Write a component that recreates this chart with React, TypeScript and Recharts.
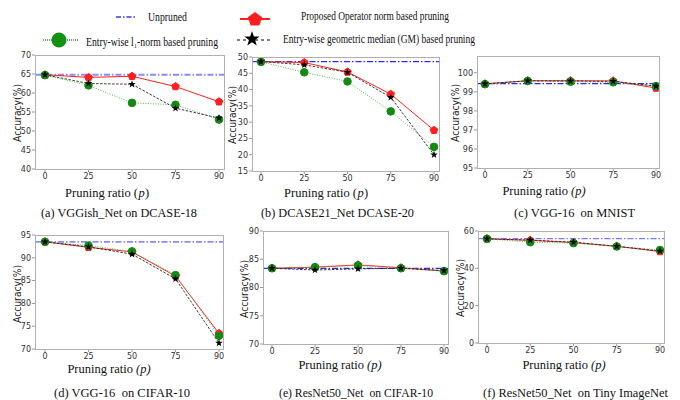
import React from "react";
import { LineChart, Line, XAxis, YAxis, ReferenceLine } from "recharts";

const ratios = ["0", "25", "50", "75", "90"];

// (a) VGGish_Net on DCASE-18
const aUnpruned = 64.8;
const aProposed = [64.8, 64.1, 64.4, 61.7, 57.7];
const aL1 = [64.7, 62.0, 57.4, 56.9, 53.0];
const aGM = [64.8, 62.5, 62.3, 56.0, 53.4];
const aTicks = [40, 45, 50, 55, 60, 65, 70];

// (b) DCASE21_Net DCASE-20
const bUnpruned = 48.6;
const bProposed = [48.6, 48.3, 45.4, 38.6, 27.5];
const bL1 = [48.5, 45.3, 42.5, 33.3, 22.4];
const bGM = [48.6, 47.6, 45.3, 37.6, 20.0];
const bTicks = [15, 20, 25, 30, 35, 40, 45, 50];

// (c) VGG-16 on MNIST
const cUnpruned = 99.43;
const cProposed = [99.42, 99.58, 99.58, 99.57, 99.2];
const cL1 = [99.4, 99.57, 99.53, 99.5, 99.3];
const cGM = [99.42, 99.58, 99.57, 99.55, 99.3];
const cTicks = [95, 96, 97, 98, 99, 100];

// (d) VGG-16 on CIFAR-10
const dUnpruned = 93.5;
const dProposed = [93.5, 92.3, 91.3, 86.0, 73.4];
const dL1 = [93.5, 92.7, 91.4, 86.2, 72.9];
const dGM = [93.5, 92.4, 90.8, 85.4, 71.3];
const dTicks = [70, 75, 80, 85, 90, 95];

// (e) ResNet50_Net on CIFAR-10
const eUnpruned = 83.4;
const eProposed = [83.4, 83.6, 84.0, 83.5, 82.9];
const eL1 = [83.4, 83.6, 83.9, 83.4, 82.9];
const eGM = [83.4, 83.1, 83.3, 83.4, 83.0];
const eTicks = [70, 75, 80, 85, 90];

// (f) ResNet50_Net on Tiny ImageNet
const fUnpruned = 55.9;
const fProposed = [55.8, 55.0, 53.8, 51.8, 49.0];
const fL1 = [55.8, 54.0, 53.5, 51.7, 49.8];
const fGM = [55.8, 55.1, 54.0, 51.8, 49.3];
const fTicks = [0, 20, 40, 60];

const SANS = "DejaVu Sans, sans-serif";
const SERIF = "Liberation Serif, Times New Roman, serif";

const pentPoints = (cx: number, cy: number, r: number) =>
  [0, 1, 2, 3, 4]
    .map((k) => {
      const a = ((-90 + k * 72) * Math.PI) / 180;
      return `${cx + r * Math.cos(a)},${cy + r * Math.sin(a)}`;
    })
    .join(" ");

const starPoints = (cx: number, cy: number, r: number) =>
  Array.from({ length: 10 })
    .map((_, k) => {
      const a = ((-90 + k * 36) * Math.PI) / 180;
      const rr = k % 2 === 0 ? r : r * 0.4;
      return `${cx + rr * Math.cos(a)},${cy + rr * Math.sin(a)}`;
    })
    .join(" ");

const PentDot = (p: any) =>
  p.cx == null ? null : (
    <polygon key={`p${p.index}`} points={pentPoints(p.cx, p.cy, 4)} fill="#ff1f1f" stroke="#ff1f1f" />
  );
const CircleDot = (p: any) =>
  p.cx == null ? null : (
    <circle key={`c${p.index}`} cx={p.cx} cy={p.cy} r={3.8} fill="#138a13" stroke="#138a13" />
  );
const StarDot = (p: any) =>
  p.cx == null ? null : (
    <polygon key={`s${p.index}`} points={starPoints(p.cx, p.cy, 4)} fill="#000" />
  );

type Box = { x0: number; y0: number; x1: number; y1: number; padL: number; padR: number };

const YW = 28;
const XH = 14;
const MT = 7;
const MR = 2;

function Panel(props: {
  box: Box;
  unpruned: number;
  proposed: number[];
  l1: number[];
  gm: number[];
  ticks: number[];
  domain: [number, number];
  refColor: string;
  refWidth: number;
}) {
  const { box, unpruned, proposed, l1, gm, ticks, domain, refColor, refWidth } = props;
  const rows = ratios.map((r, i) => ({ ratio: r, proposed: proposed[i], l1: l1[i], gm: gm[i] }));
  const w = YW + (box.x1 - box.x0) + MR;
  const h = MT + (box.y1 - box.y0) + XH;
  const tick = { fontSize: 8, fill: "#333", fontFamily: SANS };
  return (
    <>
      <div style={{ position: "absolute", left: box.x0 - YW, top: box.y0 - MT }}>
        <LineChart width={w} height={h} data={rows} margin={{ top: MT, right: MR, left: 0, bottom: 0 }}>
          <XAxis
            dataKey="ratio"
            height={XH}
            padding={{ left: box.padL, right: box.padR }}
            axisLine={false}
            stroke="#999"
            tick={tick}
            tickSize={3}
            tickMargin={1}
            interval={0}
          />
          <YAxis
            width={YW}
            domain={domain}
            ticks={ticks}
            interval={0}
            allowDataOverflow
            axisLine={false}
            stroke="#999"
            tick={tick}
            tickSize={3}
            tickMargin={1}
          />
          <ReferenceLine y={unpruned} stroke={refColor} strokeWidth={refWidth} strokeDasharray="6 2 1.5 2" />
          <Line dataKey="proposed" stroke="#ff2020" strokeWidth={1} dot={PentDot} isAnimationActive={false} />
          <Line dataKey="l1" stroke="#55bb55" strokeWidth={1} strokeDasharray="1 1.5" dot={CircleDot} isAnimationActive={false} />
          <Line dataKey="gm" stroke="#222" strokeWidth={0.9} strokeDasharray="2.5 1.5" dot={StarDot} isAnimationActive={false} />
        </LineChart>
      </div>
      <div
        style={{
          position: "absolute",
          left: box.x0,
          top: box.y0,
          width: box.x1 - box.x0 + 1,
          height: box.y1 - box.y0 + 1,
          border: "1px solid #b0b0b0",
          boxSizing: "border-box",
          pointerEvents: "none",
        }}
      />
    </>
  );
}

// x label drawn as separate pieces so only the p (or (p)) is italic
const XLabel = (props: { x: number; y: number; allItalic?: boolean }) => {
  const t = { fontFamily: SERIF, fontSize: 12.5, fill: "#111" };
  const sx = props.x + 14;
  return props.allItalic ? (
    <>
      <text x={sx - 2} y={props.y} textAnchor="end" {...t}>Pruning ratio</text>
      <text x={sx + 1} y={props.y} fontStyle="italic" {...t}>(p)</text>
    </>
  ) : (
    <>
      <text x={sx + 3} y={props.y} textAnchor="end" {...t}>Pruning ratio (</text>
      <text x={sx + 3.5} y={props.y} fontStyle="italic" {...t}>p</text>
      <text x={sx + 10} y={props.y} {...t}>)</text>
    </>
  );
};

const YLabel = (props: { x: number; y: number }) => (
  <text
    x={props.x}
    y={props.y}
    transform={`rotate(-90 ${props.x} ${props.y})`}
    textAnchor="middle"
    dominantBaseline="central"
    fontFamily={SANS}
    fontSize={10}
    fill="#222"
    textLength={58}
    lengthAdjust="spacingAndGlyphs"
  >
    Accuracy(%)
  </text>
);

const Caption = (props: { x: number; y: number; len: number; text: string }) => (
  <text x={props.x} y={props.y} fontFamily={SERIF} fontSize={12} fill="#111" textLength={props.len} lengthAdjust="spacingAndGlyphs" style={{ whiteSpace: "pre" }}>
    {props.text}
  </text>
);

export default function App() {
  return (
    <div style={{ position: "absolute", left: 0, top: 0, width: 680, height: 400, background: "#fff", overflow: "hidden" }}>
      <Panel box={{ x0: 35, y0: 55, x1: 224, y1: 169, padL: 10, padR: 5 }} unpruned={aUnpruned} proposed={aProposed} l1={aL1} gm={aGM} ticks={aTicks} domain={[40, 70]} refColor="#8a8aff" refWidth={1.8} />
      <Panel box={{ x0: 252, y0: 57, x1: 439, y1: 171, padL: 9, padR: 5 }} unpruned={bUnpruned} proposed={bProposed} l1={bL1} gm={bGM} ticks={bTicks} domain={[15, 50]} refColor="#2b2bff" refWidth={1.2} />
      <Panel box={{ x0: 477, y0: 56, x1: 659, y1: 168, padL: 8, padR: 3 }} unpruned={cUnpruned} proposed={cProposed} l1={cL1} gm={cGM} ticks={cTicks} domain={[95, 100.88]} refColor="#2b2bff" refWidth={1.2} />
      <Panel box={{ x0: 35, y0: 235, x1: 223, y1: 349, padL: 10, padR: 4 }} unpruned={dUnpruned} proposed={dProposed} l1={dL1} gm={dGM} ticks={dTicks} domain={[70, 95]} refColor="#8a8aff" refWidth={1.8} />
      <Panel box={{ x0: 263, y0: 231, x1: 448, y1: 344, padL: 9, padR: 4 }} unpruned={eUnpruned} proposed={eProposed} l1={eL1} gm={eGM} ticks={eTicks} domain={[70, 90]} refColor="#2b2bff" refWidth={1.2} />
      <Panel box={{ x0: 478, y0: 231, x1: 664, y1: 343, padL: 9, padR: 4 }} unpruned={fUnpruned} proposed={fProposed} l1={fL1} gm={fGM} ticks={fTicks} domain={[0, 60]} refColor="#7a7aff" refWidth={1.4} />

      <svg width={680} height={400} style={{ position: "absolute", left: 0, top: 0, pointerEvents: "none" }}>
        {/* legend */}
        <line x1={116} y1={17} x2={135} y2={17} stroke="#3a3aee" strokeWidth={1.5} strokeDasharray="5 2 1.5 2" />
        <text x={148} y={21} fontFamily={SERIF} fontSize={12} fill="#111" textLength={39} lengthAdjust="spacingAndGlyphs">Unpruned</text>
        <line x1={240} y1={19} x2={270} y2={19} stroke="#ff2020" strokeWidth={2} />
        <polygon points={pentPoints(255, 19.5, 7.5)} fill="#ff1f1f" />
        <text x={301} y={20} fontFamily={SERIF} fontSize={12} fill="#111" textLength={148} lengthAdjust="spacingAndGlyphs">Proposed Operator norm based pruning</text>
        <line x1={43} y1={40} x2={78} y2={40} stroke="#2a9a2a" strokeWidth={1.5} strokeDasharray="1 1" />
        <circle cx={59} cy={40} r={7.5} fill="#139113" />
        <text x={86} y={46} fontFamily={SERIF} fontSize={12} fill="#111" textLength={132} lengthAdjust="spacingAndGlyphs">Entry-wise l₁-norm based pruning</text>
        <line x1={237} y1={40} x2={272} y2={40} stroke="#000" strokeWidth={1.2} strokeDasharray="3 3" />
        <polygon points={starPoints(252, 39, 8)} fill="#000" />
        <text x={283} y={43} fontFamily={SERIF} fontSize={12} fill="#111" textLength={192} lengthAdjust="spacingAndGlyphs">Entry-wise geometric median (GM) based pruning</text>

        {/* axis labels */}
        <YLabel x={17} y={113} />
        <YLabel x={232} y={115} />
        <YLabel x={455} y={113} />
        <YLabel x={17} y={294} />
        <YLabel x={244} y={289} />
        <YLabel x={460} y={288} />

        <XLabel x={121} y={197} />
        <XLabel x={340} y={197} />
        <XLabel x={556} y={195} allItalic />
        <XLabel x={121} y={373} allItalic />
        <XLabel x={352} y={369} allItalic />
        <XLabel x={576} y={369} allItalic />

        {/* captions */}
        <Caption x={41} y={217} len={156} text="(a) VGGish_Net on DCASE-18" />
        <Caption x={261} y={217} len={153} text="(b) DCASE21_Net DCASE-20" />
        <Caption x={514} y={217} len={121} text="(c) VGG-16  on MNIST" />
        <Caption x={54} y={397} len={136} text="(d) VGG-16  on CIFAR-10" />
        <Caption x={279} y={397} len={154} text="(e) ResNet50_Net  on CIFAR-10" />
        <Caption x={483} y={397} len={185} text="(f) ResNet50_Net  on Tiny ImageNet" />
      </svg>
    </div>
  );
}
